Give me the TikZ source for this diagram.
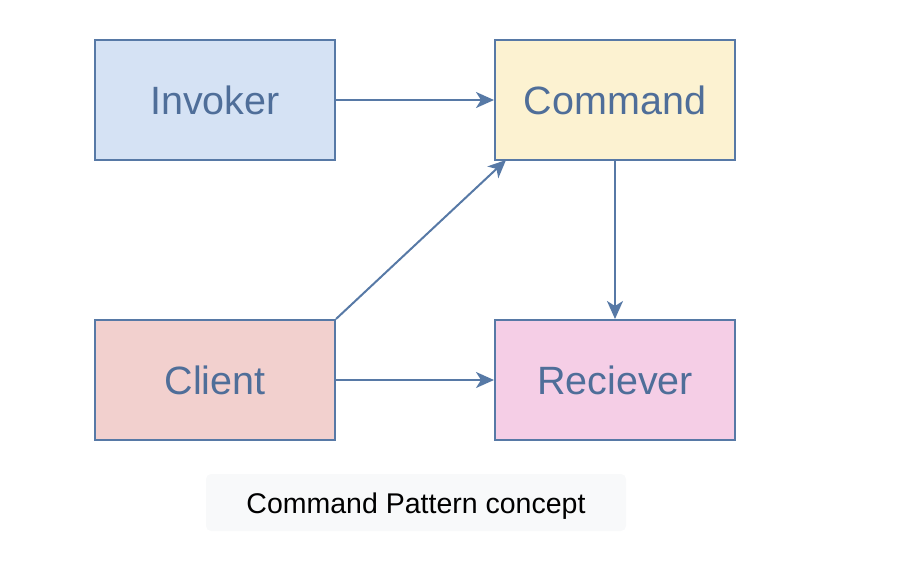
\documentclass[tikz,border=0pt]{standalone}
\usepackage{fontspec}
\setmainfont{Liberation Sans}
\usetikzlibrary{arrows.meta}
\definecolor{strokeblue}{HTML}{5779A6}
\definecolor{textblue}{HTML}{4F6E99}
\definecolor{fillblue}{HTML}{D5E2F4}
\definecolor{fillyellow}{HTML}{FCF2D1}
\definecolor{fillred}{HTML}{F2D0CE}
\definecolor{fillpink}{HTML}{F5CEE6}
\definecolor{capfill}{HTML}{F8F9FA}
\tikzset{
  boxnode/.style={draw=strokeblue, line width=2pt, minimum width=240pt, minimum height=120pt,
    inner sep=0pt, text=textblue, font=\fontsize{39.5}{44}\selectfont},
  conn/.style={draw=strokeblue, line width=2pt, -{Stealth[length=18pt,width=16pt,inset=5pt]}},
}
\begin{document}
\begin{tikzpicture}[x=1pt,y=-1pt]
\useasboundingbox (0,0) rectangle (900,560);
\node[boxnode, fill=fillblue] (inv) at (215,100) {Invoker};
\node[boxnode, fill=fillyellow] (cmd) at (615,100) {Command};
\node[boxnode, fill=fillred] (cli) at (215,380) {Client};
\node[boxnode, fill=fillpink] (rec) at (615,380) {Reciever};
\coordinate (cmdtip) at (506,160);
\draw[conn] (inv.east) -- (cmd.west);
\draw[conn] (cli.north east) -- (cmdtip);
\draw[conn] (cmd.south) -- (rec.north);
\draw[conn] (cli.east) -- (rec.west);
\node[fill=capfill, rounded corners=5pt, minimum width=420pt, minimum height=57pt, inner sep=0pt,
  text height=24pt, text depth=3pt,
  font=\fontsize{28.5}{32}\selectfont] (cap) at (416,502.5) {Command Pattern concept};
\end{tikzpicture}
\end{document}
